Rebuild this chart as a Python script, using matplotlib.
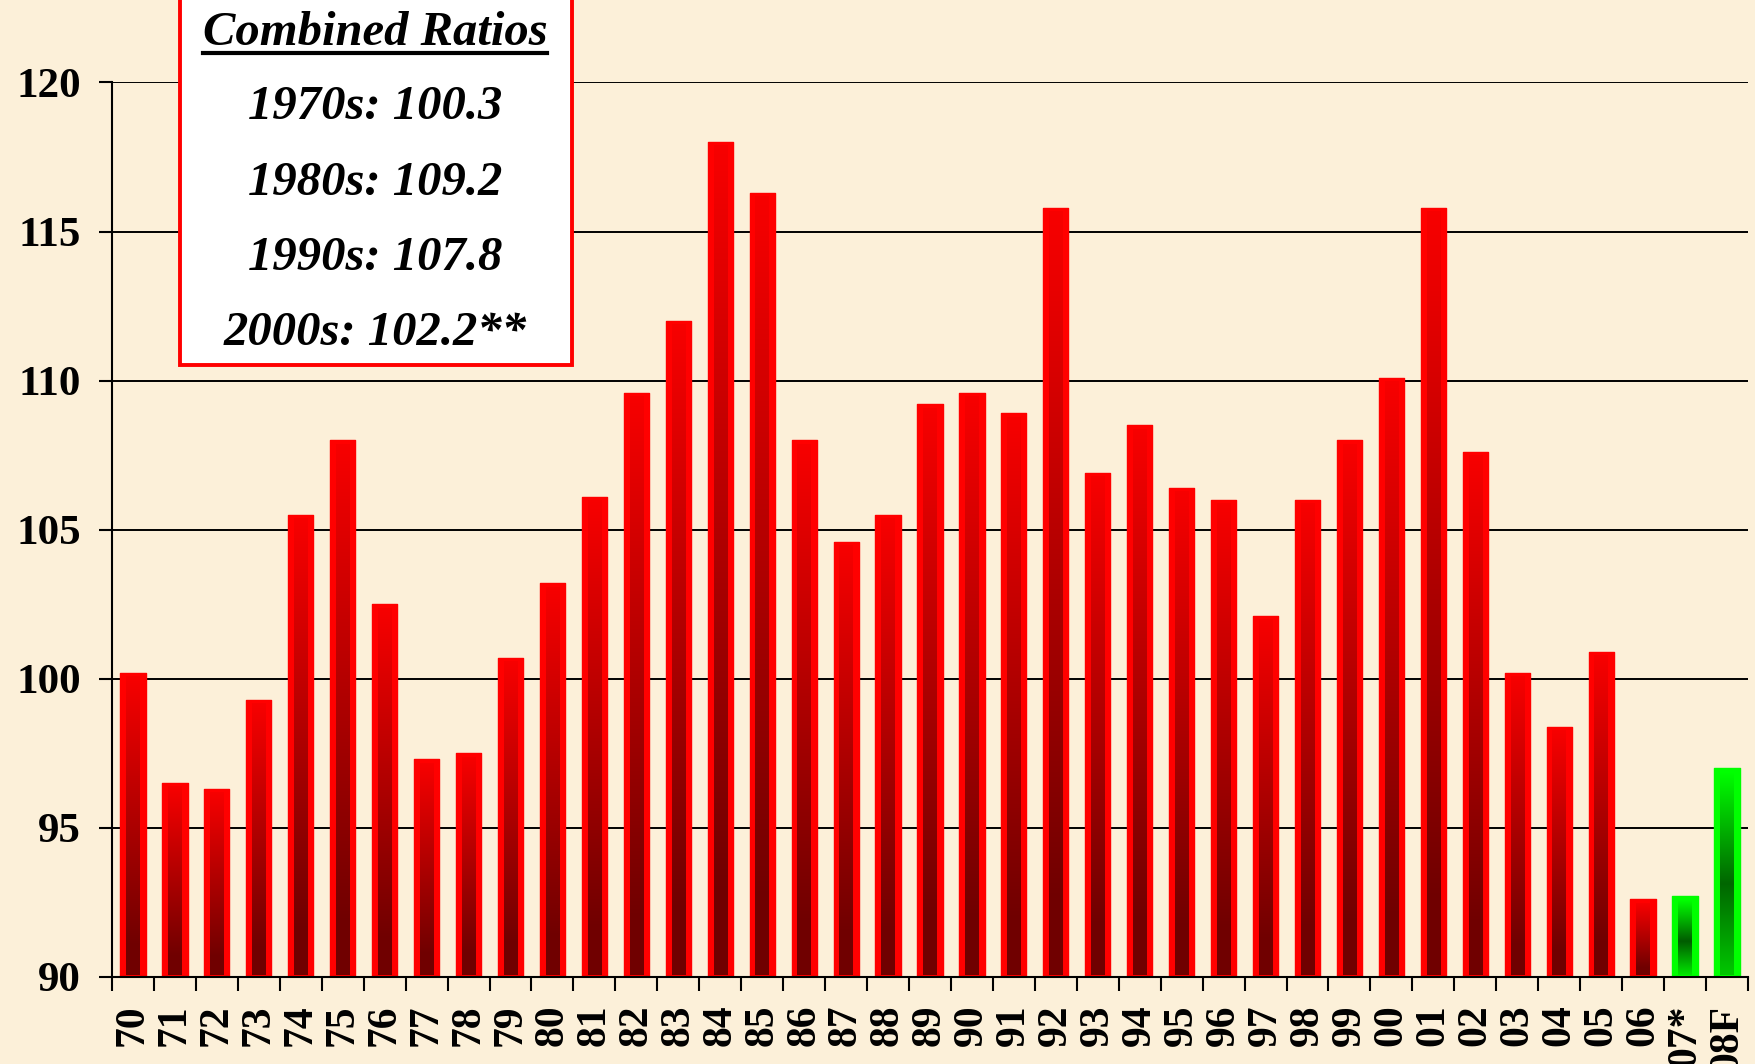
import numpy as np
import matplotlib
matplotlib.use("Agg")
import matplotlib.pyplot as plt
from matplotlib.patches import Rectangle
from matplotlib.lines import Line2D

# ---------------- data ----------------
years = ["70", "71", "72", "73", "74", "75", "76", "77", "78", "79",
         "80", "81", "82", "83", "84", "85", "86", "87", "88", "89",
         "90", "91", "92", "93", "94", "95", "96", "97", "98", "99",
         "00", "01", "02", "03", "04", "05", "06", "07*", "08F"]
combined_ratio = [100.2, 96.5, 96.3, 99.3, 105.5, 108.0, 102.5, 97.3, 97.5, 100.7,
                  103.2, 106.1, 109.6, 112.0, 118.0, 116.3, 108.0, 104.6, 105.5, 109.2,
                  109.6, 108.9, 115.8, 106.9, 108.5, 106.4, 106.0, 102.1, 106.0, 108.0,
                  110.1, 115.8, 107.6, 100.2, 98.4, 100.9, 92.6, 92.7, 97.0]
bar_kind = ["actual"] * 37 + ["estimate", "forecast"]
box_title = "Combined Ratios"
box_lines = ["1970s: 100.3", "1980s: 109.2", "1990s: 107.8", "2000s: 102.2**"]
y_ticks = [90, 95, 100, 105, 110, 115, 120]

# ---------------- style ----------------
BG = "#FCF0D9"
SERIF = ["Liberation Serif", "DejaVu Serif"]
plt.rcParams["font.family"] = SERIF

fig = plt.figure(figsize=(17.56, 10.64), dpi=100, facecolor=BG)
ax = fig.add_axes([0.0638, 0.0818, 0.9316, 0.8407])
ax.set_facecolor(BG)

x = np.arange(len(years))
outer_w = 0.6
inner_w = 0.32
base = 90.0
inset = 0.12

outer_colors = ["#FF0000" if k == "actual" else "#00FF00" for k in bar_kind]
ax.bar(x, np.array(combined_ratio) - base, bottom=base, width=outer_w,
       color=outer_colors, edgecolor=outer_colors, linewidth=1.0,
       joinstyle="round", zorder=3)


def gradient_for(kind, n=200):
    t = np.linspace(0, 1, n)[:, None]  # 0 top -> 1 bottom
    if kind == "actual":
        top = np.array([0.97, 0.0, 0.0])
        bot = np.array([0.44, 0.0, 0.0])
        s = np.clip(t / 0.9, 0, 1)
        col = top * (1 - s) + bot * s
    else:
        top = np.array([0.0, 1.0, 0.0])
        mid = np.array([0.0, 0.36, 0.0]) if kind == "estimate" else np.array([0.0, 0.40, 0.0])
        bot = np.array([0.0, 0.90, 0.0]) if kind == "estimate" else np.array([0.0, 0.78, 0.0])
        peak = 0.55
        s1 = np.clip(t / peak, 0, 1)
        s2 = np.clip((t - peak) / (1 - peak), 0, 1)
        col = np.where(t <= peak, top * (1 - s1) + mid * s1, mid * (1 - s2) + bot * s2)
    return col.reshape(n, 1, 3)


for xi, v, k in zip(x, combined_ratio, bar_kind):
    img = gradient_for(k)
    ax.imshow(img, extent=(xi - inner_w / 2, xi + inner_w / 2, base + inset * 0.6, v - inset),
              origin="upper", aspect="auto", interpolation="bilinear", zorder=4)

ax.set_xlim(-0.5, len(years) - 0.5)
ax.set_ylim(90, 120)

# grid & spines
ax.set_axisbelow(True)
ax.yaxis.grid(True, color="black", linewidth=1.4)
for s in ["top", "right"]:
    ax.spines[s].set_visible(False)
for s in ["left", "bottom"]:
    ax.spines[s].set_color("black")
    ax.spines[s].set_linewidth(1.5)
    ax.spines[s].set_zorder(5)

ax.set_yticks(y_ticks)
ax.set_yticklabels([str(t) for t in y_ticks], fontsize=31, fontweight="bold")
ax.tick_params(axis="y", direction="out", length=9.5, width=1.5, pad=13, colors="black")

ax.set_xticks(x)
ax.set_xticklabels(years, rotation=90, fontsize=30, fontweight="bold")
ax.tick_params(axis="x", which="major", length=0, pad=20)
ax.set_xticks(np.arange(-0.5, len(years)), minor=True)
ax.tick_params(axis="x", which="minor", direction="out", length=10, width=1.5)

# ---------------- text box ----------------
box = Rectangle((0.1025, 0.657), 0.2232, 0.40, transform=fig.transFigure,
                facecolor="white", edgecolor="#FF0000", linewidth=2.8,
                zorder=10, clip_on=False)
fig.add_artist(box)

cx = 0.2136
title_t = fig.text(cx, 0.9577, box_title, ha="center", va="baseline",
                   fontsize=35, fontweight="bold", fontstyle="italic", zorder=11)
baselines = [0.8882, 0.8167, 0.7462, 0.6758]
for yb, line in zip(baselines, box_lines):
    fig.text(cx, yb, line, ha="center", va="baseline", fontsize=35,
             fontweight="bold", fontstyle="italic", zorder=11)

fig.canvas.draw()
bb = title_t.get_window_extent().transformed(fig.transFigure.inverted())
fig.add_artist(Line2D([bb.x0, bb.x1], [0.9505, 0.9505], transform=fig.transFigure,
                      color="black", linewidth=3.0, zorder=11))

fig.savefig("out.png", dpi=100, facecolor=BG)
